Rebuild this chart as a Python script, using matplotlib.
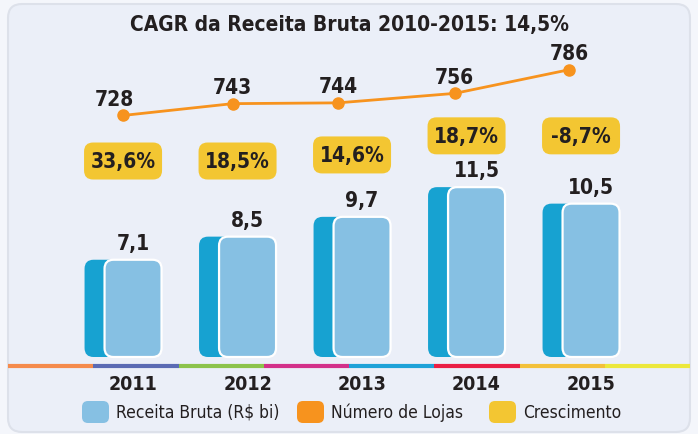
import matplotlib
matplotlib.use('Agg')
import matplotlib.pyplot as plt
from matplotlib.patches import FancyBboxPatch
from matplotlib.lines import Line2D
from matplotlib.transforms import IdentityTransform, blended_transform_factory

# data
years = ['2011', '2012', '2013', '2014', '2015']
receita = [7.1, 8.5, 9.7, 11.5, 10.5]          # R$ bi
lojas = [728, 743, 744, 756, 786]
crescimento = [33.6, 18.5, 14.6, 18.7, -8.7]   # %
title = 'CAGR da Receita Bruta 2010-2015: 14,5%'

# colours
c_light = '#86c0e3'
c_dark = '#17a2d1'
c_line = '#f7931e'
c_box = '#f3c632'
c_text = '#231f20'
strip_colors = ['#f58b4c', '#5b6bb4', '#8cc34b', '#d3308a',
                '#1ea2d8', '#ea1f45', '#f3c13a', '#ece83b']

W, H = 698, 434
FONT = dict(family='DejaVu Sans', fontstretch='condensed', fontweight='bold', color=c_text)


def fmt(v, suffix=''):
    return ('%.1f' % v).replace('.', ',') + suffix


fig = plt.figure(figsize=(W / 100, H / 100), dpi=100, facecolor='#f4f6fb')

# rounded panel behind everything
panel = FancyBboxPatch((8, 2), 682, 428, boxstyle='round,pad=0,rounding_size=14',
                       transform=IdentityTransform(), facecolor='#ebeff8',
                       edgecolor='#dde1ea', linewidth=1.5, zorder=-5)
fig.patches.append(panel)

# bars axes: x in category units, y in R$ bi
ax = fig.add_axes([0, 0, 1, 1])
ax.set_xlim(-1.162, 4.934)
ax.set_ylim(-3.46, 22.84)
ax.axis('off')
ax.patch.set_visible(False)

# pixels per data unit, for the rounded corners
p0 = ax.transData.transform((0, 0))
p1 = ax.transData.transform((1, 1))
ppx, ppy = p1 - p0
aspect = ppx / ppy

bar_w = 57 / ppx
shift = 20 / ppx
radius = 9 / ppx
base = ax.get_ylim()[0] + (434 - 357) / ppy

for i, v in enumerate(receita):
    dark = FancyBboxPatch((i - bar_w / 2 - shift, base), bar_w, v - base,
                          boxstyle='round,pad=0,rounding_size=%f' % radius,
                          mutation_aspect=aspect, facecolor=c_dark,
                          edgecolor='none', zorder=2)
    light = FancyBboxPatch((i - bar_w / 2, base), bar_w, v - base,
                           boxstyle='round,pad=0,rounding_size=%f' % radius,
                           mutation_aspect=aspect, facecolor=c_light,
                           edgecolor='white', linewidth=1.6, zorder=3)
    ax.add_patch(dark)
    ax.add_patch(light)
    ax.annotate(fmt(v), (i, v), xytext=(0, 7), textcoords='offset points',
                ha='center', va='baseline', fontsize=15, zorder=5, **FONT)

# growth boxes (y in axes fraction)
box_y = [0.629, 0.629, 0.643, 0.687, 0.687]
trans = blended_transform_factory(ax.transData, ax.transAxes)
box_w = 78 / ppx
box_h = 37 / H
for i, g in enumerate(crescimento):
    cx = i - shift / 2
    box = FancyBboxPatch((cx - box_w / 2, box_y[i] - box_h / 2), box_w, box_h,
                         boxstyle='round,pad=0,rounding_size=%f' % (9 / ppx),
                         mutation_aspect=ppx / H, transform=trans,
                         facecolor=c_box, edgecolor='none', zorder=4)
    ax.add_patch(box)
    ax.text(cx, box_y[i] - 0.003, fmt(g, '%'), transform=trans, ha='center', va='center',
            fontsize=15, zorder=5, **FONT)

# number of stores line on a twin scale
ax2 = ax.twinx()
ax2.set_ylim(324.8, 874.2)
ax2.axis('off')
line_dx = [-0.09, -0.13, -0.21, -0.19, -0.19]
line_x = [i + d for i, d in zip(range(len(lojas)), line_dx)]
ax2.plot(line_x, lojas, color=c_line, linewidth=2, marker='o', markersize=8,
         markeredgecolor=c_line, zorder=6)
label_dx = [-6, 0, 0, 0, 0]
for x, v, d in zip(line_x, lojas, label_dx):
    ax2.annotate(str(v), (x, v), xytext=(d, 7), textcoords='offset points',
                 ha='center', va='baseline', fontsize=15, **FONT)

# coloured strip under the bars
seg = 682 / len(strip_colors)
for k, c in enumerate(strip_colors):
    fig.lines.append(Line2D([8 + k * seg, 8 + (k + 1) * seg], [H - 366, H - 366],
                            transform=IdentityTransform(), color=c, linewidth=3,
                            solid_capstyle='butt'))

# year labels
for i, y in enumerate(years):
    ax.text(i, (H - 390) / H, y, transform=trans, ha='center', va='baseline',
            fontsize=14, **FONT)

# title
fig.text(0.5, (H - 31) / H, title, ha='center', va='baseline', fontsize=15, **FONT)

# legend, drawn by hand with rounded swatches
legend = [(c_light, 'Receita Bruta (R$ bi)', 82),
          (c_line, 'Número de Lojas', 297),
          (c_box, 'Crescimento', 489)]
for c, label, x in legend:
    sw = FancyBboxPatch((x, H - 423), 27, 22, boxstyle='round,pad=0,rounding_size=6',
                        transform=IdentityTransform(), facecolor=c, edgecolor='none')
    fig.patches.append(sw)
    fig.text((x + 34) / W, (H - 418) / H, label, ha='left', va='baseline',
             fontsize=12.5, family='DejaVu Sans', fontstretch='condensed',
             fontweight='normal', color=c_text)

fig.savefig('out.png', dpi=100, facecolor=fig.get_facecolor())
